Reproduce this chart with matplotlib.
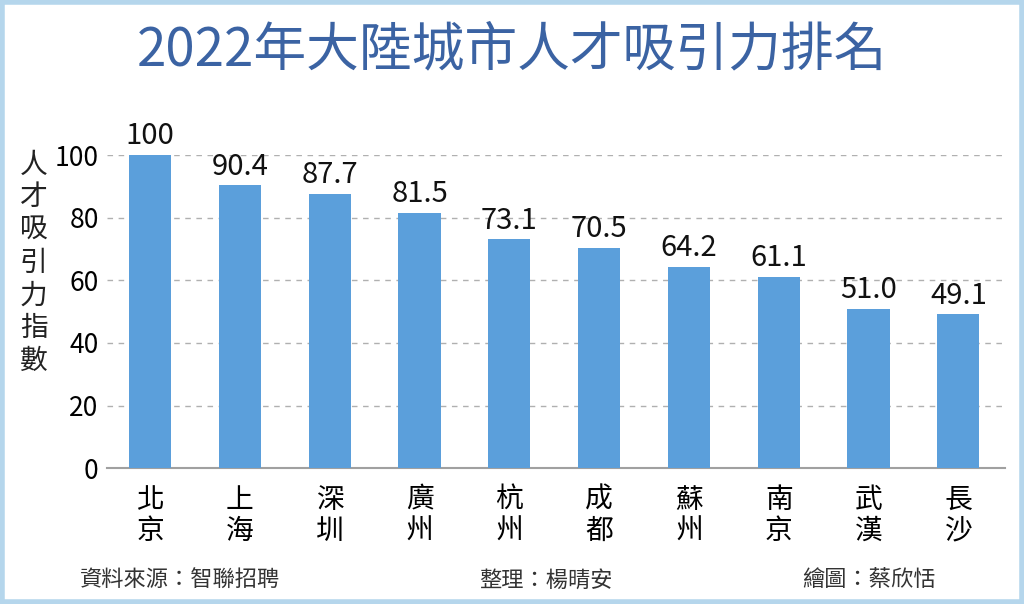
import matplotlib
matplotlib.use("Agg")
import matplotlib.pyplot as plt
from matplotlib.patches import Rectangle

plt.rcParams['font.family'] = ['Noto Sans CJK TC', 'DejaVu Sans']

cities = ["北京", "上海", "深圳", "廣州", "杭州", "成都", "蘇州", "南京", "武漢", "長沙"]
scores = [100, 90.4, 87.7, 81.5, 73.1, 70.5, 64.2, 61.1, 51.0, 49.1]
score_labels = ["100", "90.4", "87.7", "81.5", "73.1", "70.5", "64.2", "61.1", "51.0", "49.1"]
yticks = [0, 20, 40, 60, 80, 100]

title = "2022年大陸城市人才吸引力排名"
ylabel = "人才吸引力指數"
source = "資料來源：智聯招聘"
editor = "整理：楊晴安"
artist = "繪圖：蔡欣恬"

fig = plt.figure(figsize=(10.24, 6.04), dpi=100)
ax = fig.add_axes([0.1045, 0.225, 0.877, 0.518])

x = list(range(len(cities)))
ax.bar(x, scores, width=0.47, color="#5b9fdb", zorder=3)

for xi, v, lab in zip(x, scores, score_labels):
    ax.text(xi, v + 1.2, lab, ha="center", va="bottom", fontsize=21,
            color="#111111", clip_on=False)

ax.set_xlim(-0.48, 9.52)
ax.set_ylim(0, 100)
ax.set_yticks(yticks)
ax.set_yticklabels([str(t) for t in yticks], fontsize=19)
ax.set_xticks(x)
ax.set_xticklabels(["\n".join(c) for c in cities], fontsize=20, linespacing=1.05)
ax.tick_params(axis="y", length=0, pad=6)
ax.tick_params(axis="x", length=0, pad=12)

ax.yaxis.grid(True, linestyle=(0, (4, 4)), color="#b0b0b0", linewidth=1, zorder=0)
for s in ["top", "right", "left"]:
    ax.spines[s].set_visible(False)
ax.spines["bottom"].set_color("#a0a0a0")
ax.spines["bottom"].set_linewidth(1.5)

fig.text(0.033, 0.565, "\n".join(ylabel), ha="center", va="center",
         fontsize=20, linespacing=1.12, color="#222222")

fig.text(0.5, 0.918, title, ha="center", va="center", fontsize=38,
         color="#3b63a3", fontweight="medium")

fig.text(0.078, 0.04, source, ha="left", va="center", fontsize=16, color="#333333")
fig.text(0.468, 0.04, editor, ha="left", va="center", fontsize=16, color="#333333")
fig.text(0.783, 0.04, artist, ha="left", va="center", fontsize=16, color="#333333")

# light blue frame round the picture
fig.patches.append(Rectangle((0.002, 0.003), 0.996, 0.994, transform=fig.transFigure,
                             fill=False, edgecolor="#b5d6ec", linewidth=4))

fig.savefig("out.png", dpi=100)
